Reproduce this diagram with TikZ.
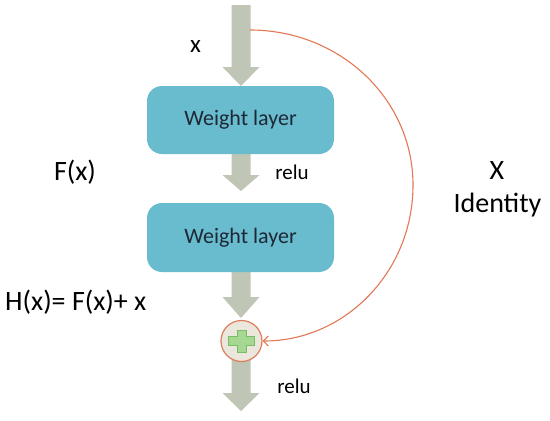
\documentclass[tikz,border=0pt]{standalone}
\usepackage{fontspec}
\setmainfont{Carlito}
\usetikzlibrary{arrows.meta}
\definecolor{boxblue}{RGB}{104,188,206}
\definecolor{arrowgray}{RGB}{191,198,181}
\definecolor{sumfill}{RGB}{236,231,220}
\definecolor{sumline}{RGB}{222,125,92}
\definecolor{plusfill}{RGB}{166,216,146}
\definecolor{plusline}{RGB}{120,190,100}
\definecolor{idline}{RGB}{226,120,84}
\definecolor{boxtext}{RGB}{30,40,55}
\newcommand\blockarr[3]{%
  \fill[arrowgray] (231.5,#1) -- (250.5,#1) -- (250.5,#2) -- (259.5,#2) -- (241,#3)
    -- (222.5,#2) -- (231.5,#2) -- cycle;}
\tikzset{
  wlayer/.style={draw=none, fill=boxblue, rounded corners=15pt, minimum width=187pt,
    minimum height=68pt, inner sep=0pt, text=boxtext, font=\fontsize{22}{26}\selectfont},
  lbl/.style={inner sep=0pt, text=black},
  big/.style={font=\fontsize{28}{32}\selectfont},
  small/.style={font=\fontsize{21}{25}\selectfont},
  sumnode/.style={circle, draw=sumline, line width=1.2pt, fill=sumfill, minimum size=41pt, inner sep=0pt},
  identity/.style={draw=idline, line width=1.1pt, -{Straight Barb[length=5pt,width=10pt]}}
}
\begin{document}
\begin{tikzpicture}[x=1pt,y=-1pt]
\useasboundingbox (0,0) rectangle (550,421);
\fill[white] (0,0) rectangle (550,421);
% block arrows
\blockarr{5}{67}{86}
\blockarr{154}{175}{191}
\blockarr{272}{297}{318}
\blockarr{355}{393}{411}
% layers
\node[wlayer] (w1) at (240.5,120) {Weight layer};
\node[wlayer, minimum height=69pt] (w2) at (240.5,237.5) {Weight layer};
% sum node
\node[sumnode] (sum) at (241.5,341) {};
\fill[plusfill, draw=plusline, line width=0.8pt]
  (237,330) -- (246,330) -- (246,336.5) -- (254,336.5) -- (254,345.5) -- (246,345.5)
  -- (246,352) -- (237,352) -- (237,345.5) -- (228,345.5) -- (228,336.5) -- (237,336.5) -- cycle;
% identity connector
\coordinate (start) at (250,30);
\draw[identity] (start) .. controls (340,30) and (413,99) .. (413,185)
  .. controls (413,272) and (345,341) .. (sum.east);
% labels
\node[lbl, font=\fontsize{25}{28}\selectfont] (xin) at (195.5,47) {x};
\node[lbl, small] (relu1) at (292,172) {relu};
\node[lbl, small] (relu2) at (294,386) {relu};
\node[lbl, big] (fx) at (75,172) {F(x)};
\node[lbl, big, anchor=west] (hx) at (5,302) {H(x)= F(x)+ x};
\node[lbl, big] (X) at (497,171) {X};
\node[lbl, big] (ident) at (497.5,205) {Identity};
\end{tikzpicture}
\end{document}
